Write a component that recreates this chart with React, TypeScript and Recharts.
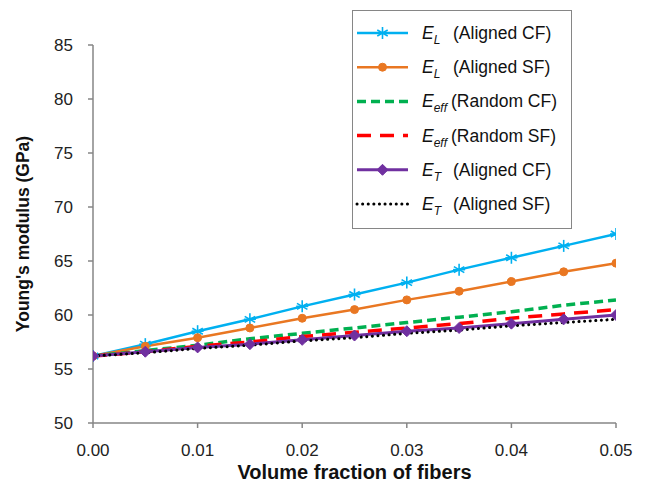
import React from 'react';
import { LineChart, Line, XAxis, YAxis, Label } from 'recharts';

const fractions = [0, 0.005, 0.01, 0.015, 0.02, 0.025, 0.03, 0.035, 0.04, 0.045, 0.05];
const eLAlignedCF = [56.2, 57.3, 58.5, 59.6, 60.8, 61.9, 63.0, 64.2, 65.3, 66.4, 67.5];
const eLAlignedSF = [56.2, 57.1, 57.9, 58.8, 59.7, 60.5, 61.4, 62.2, 63.1, 64.0, 64.8];
const eEffRandomCF = [56.2, 56.7, 57.2, 57.8, 58.3, 58.8, 59.3, 59.8, 60.3, 60.9, 61.4];
const eEffRandomSF = [56.2, 56.6, 57.1, 57.5, 58.0, 58.4, 58.8, 59.2, 59.7, 60.1, 60.5];
const eTAlignedCF = [56.2, 56.6, 57.0, 57.3, 57.7, 58.1, 58.5, 58.8, 59.2, 59.6, 60.0];
const eTAlignedSF = [56.2, 56.5, 56.9, 57.2, 57.6, 57.9, 58.3, 58.6, 59.0, 59.3, 59.6];

const xTicks = [0, 0.01, 0.02, 0.03, 0.04, 0.05];
const yTicks = [50, 55, 60, 65, 70, 75, 80, 85];

const data = fractions.map((f, i) => ({
  f,
  a: eLAlignedCF[i],
  b: eLAlignedSF[i],
  c: eEffRandomCF[i],
  d: eEffRandomSF[i],
  e: eTAlignedCF[i],
  g: eTAlignedSF[i],
}));

const CYAN = '#00b0f0';
const ORANGE = '#e97722';
const GREEN = '#00b050';
const RED = '#ff0000';
const PURPLE = '#7030a0';
const BLACK = '#000000';
const AXIS = '#868686';
const FONT = '"Liberation Sans", Arial, sans-serif';

const Star = (props: any) => {
  const { cx, cy } = props;
  if (cx == null || cy == null) return null;
  const r = 6;
  const d = r * 0.87;
  return (
    <g stroke={CYAN} strokeWidth={1.6}>
      <line x1={cx} y1={cy - r} x2={cx} y2={cy + r} />
      <line x1={cx - d} y1={cy - r / 2} x2={cx + d} y2={cy + r / 2} />
      <line x1={cx - d} y1={cy + r / 2} x2={cx + d} y2={cy - r / 2} />
      <line x1={cx - r} y1={cy} x2={cx + r} y2={cy} />
    </g>
  );
};

const Circle = (props: any) => {
  const { cx, cy } = props;
  if (cx == null || cy == null) return null;
  return <circle cx={cx} cy={cy} r={4} fill={ORANGE} stroke={ORANGE} />;
};

const Diamond = (props: any) => {
  const { cx, cy } = props;
  if (cx == null || cy == null) return null;
  const r = 5.5;
  return (
    <path
      d={`M${cx},${cy - r}L${cx + r},${cy}L${cx},${cy + r}L${cx - r},${cy}Z`}
      fill={PURPLE}
      stroke={PURPLE}
    />
  );
};

const GREEN_DASH = '9 5';
const RED_DASH = '14 9';
const DOT_DASH = '0.1 5.5';

const legendItems = [
  { sub: 'L', text: '(Aligned CF)', color: CYAN, dash: undefined, w: 2.5, marker: 'star' },
  { sub: 'L', text: '(Aligned SF)', color: ORANGE, dash: undefined, w: 2.5, marker: 'circle' },
  { sub: 'eff', text: '(Random CF)', color: GREEN, dash: GREEN_DASH, w: 3.5, marker: '' },
  { sub: 'eff', text: '(Random SF)', color: RED, dash: RED_DASH, w: 3.5, marker: '' },
  { sub: 'T', text: '(Aligned CF)', color: PURPLE, dash: undefined, w: 3, marker: 'diamond' },
  { sub: 'T', text: '(Aligned SF)', color: BLACK, dash: DOT_DASH, w: 3, marker: '' },
];

const LegendBox = () => (
  <svg width={220} height={219} style={{ display: 'block' }}>
    <rect x={0.5} y={0.5} width={219} height={218} fill="#fff" stroke={AXIS} strokeWidth={1} />
    {legendItems.map((it, i) => {
      const y = 23 + i * 34.2;
      return (
        <g key={i}>
          <line
            x1={5}
            x2={56}
            y1={y}
            y2={y}
            stroke={it.color}
            strokeWidth={it.w}
            strokeDasharray={it.dash}
            strokeLinecap={it.dash === DOT_DASH ? 'round' : 'butt'}
          />
          {it.marker === 'star' && <Star cx={30.5} cy={y} />}
          {it.marker === 'circle' && <Circle cx={30.5} cy={y} />}
          {it.marker === 'diamond' && <Diamond cx={30.5} cy={y} />}
          <text x={70} y={y + 6} fontFamily={FONT} fontSize={17.5} fill="#111">
            <tspan fontStyle="italic">E</tspan>
            <tspan fontStyle="italic" fontSize={12} dy={5}>{it.sub}</tspan>
          </text>
          <text x={it.sub === 'eff' ? 99 : 101} y={y + 6} fontFamily={FONT} fontSize={17.5} fill="#111">
            {it.text}
          </text>
        </g>
      );
    })}
  </svg>
);

export default function App() {
  return (
    <div style={{ position: 'absolute', left: 0, top: 0, width: 648, height: 490, background: '#fff' }}>
      <LineChart
        width={648}
        height={490}
        data={data}
        margin={{ top: 45, right: 32, bottom: 27, left: 0 }}
      >
        <XAxis
          dataKey="f"
          type="number"
          domain={[0, 0.05]}
          ticks={xTicks}
          interval={0}
          tickFormatter={(v: number) => v.toFixed(2)}
          height={40}
          stroke={AXIS}
          strokeWidth={1.5}
          tickSize={5}
          tick={{ fill: '#222', fontSize: 17, fontFamily: FONT }}
          tickMargin={16}
          allowDataOverflow
        >
          <Label
            value="Volume fraction of fibers"
            position="insideBottom"
            offset={-16}
            style={{ fontWeight: 'bold', fontSize: 20, fill: '#111', fontFamily: FONT }}
          />
        </XAxis>
        <YAxis
          type="number"
          domain={[50, 85]}
          ticks={yTicks}
          interval={0}
          width={93}
          stroke={AXIS}
          strokeWidth={1.5}
          tickSize={5}
          tick={{ fill: '#222', fontSize: 17, fontFamily: FONT }}
          tickMargin={15}
          allowDataOverflow
        >
          <Label
            value="Young's modulus (GPa)"
            angle={-90}
            position="insideLeft"
            offset={23}
            style={{ fontWeight: 'bold', fontSize: 17.5, fill: '#111', fontFamily: FONT, textAnchor: 'middle' }}
          />
        </YAxis>
        <Line dataKey="a" stroke={CYAN} strokeWidth={2.5} dot={<Star />} activeDot={false} isAnimationActive={false} />
        <Line dataKey="b" stroke={ORANGE} strokeWidth={2.5} dot={<Circle />} activeDot={false} isAnimationActive={false} />
        <Line dataKey="c" stroke={GREEN} strokeWidth={3.5} strokeDasharray={GREEN_DASH} dot={false} activeDot={false} isAnimationActive={false} />
        <Line dataKey="d" stroke={RED} strokeWidth={3.5} strokeDasharray={RED_DASH} dot={false} activeDot={false} isAnimationActive={false} />
        <Line dataKey="e" stroke={PURPLE} strokeWidth={3} dot={<Diamond />} activeDot={false} isAnimationActive={false} />
        <Line dataKey="g" stroke={BLACK} strokeWidth={3} strokeDasharray={DOT_DASH} strokeLinecap="round" dot={false} activeDot={false} isAnimationActive={false} />
      </LineChart>
      <div style={{ position: 'absolute', left: 352, top: 10 }}>
        <LegendBox />
      </div>
    </div>
  );
}
